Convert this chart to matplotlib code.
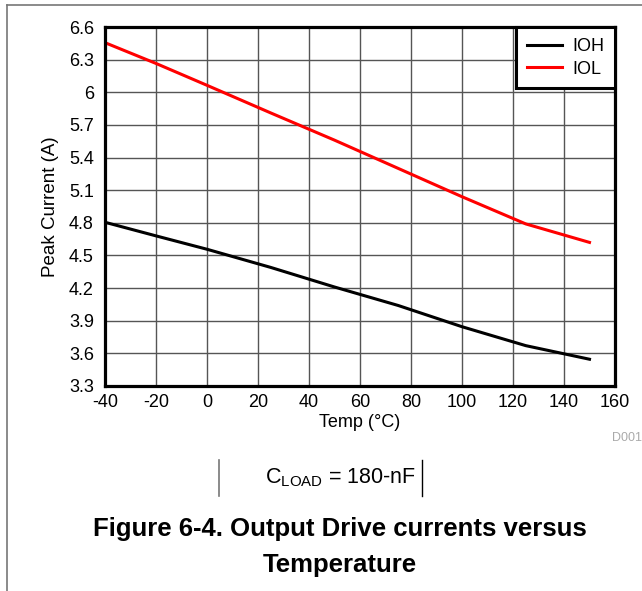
import matplotlib
matplotlib.use("Agg")
import matplotlib.pyplot as plt
from matplotlib.lines import Line2D

plt.rcParams['font.family'] = ['Liberation Sans', 'DejaVu Sans']
plt.rcParams['mathtext.fontset'] = 'custom'
plt.rcParams['mathtext.rm'] = 'Liberation Sans'
plt.rcParams['mathtext.it'] = 'Liberation Sans'

temps = [-40, -20, 0, 25, 50, 75, 100, 125, 150]
ioh = [4.805, 4.68, 4.557, 4.39, 4.21, 4.04, 3.845, 3.671, 3.546]
iol = [6.456, 6.265, 6.064, 5.81, 5.56, 5.30, 5.04, 4.79, 4.62]
xticks = [-40, -20, 0, 20, 40, 60, 80, 100, 120, 140, 160]
yticks = [3.3, 3.6, 3.9, 4.2, 4.5, 4.8, 5.1, 5.4, 5.7, 6.0, 6.3, 6.6]
ytick_labels = ['3.3', '3.6', '3.9', '4.2', '4.5', '4.8', '5.1', '5.4', '5.7', '6', '6.3', '6.6']

W, H = 642, 591
fig = plt.figure(figsize=(W / 100, H / 100), dpi=100)
ax = fig.add_axes([105 / W, 1 - 386 / H, 510 / W, 359 / H])

ax.plot(temps, ioh, color='black', lw=2.2, label='IOH')
ax.plot(temps, iol, color='#ff0000', lw=2.2, label='IOL')

ax.set_xlim(-40, 160)
ax.set_ylim(3.3, 6.6)
ax.set_xticks(xticks)
ax.set_xticklabels([str(t) for t in xticks])
ax.set_yticks(yticks)
ax.set_yticklabels(ytick_labels)
ax.tick_params(length=0, labelsize=13, colors='black')
ax.tick_params(axis='y', pad=8)
ax.tick_params(axis='x', pad=6)
ax.grid(True, color='#555555', lw=1.0)
ax.set_axisbelow(True)
for s in ax.spines.values():
    s.set_linewidth(2.3)
    s.set_color('black')

ax.set_xlabel('Temp (°C)', fontsize=13, labelpad=2)
ax.set_ylabel('Peak Current (A)', fontsize=13.5, labelpad=7)

leg = ax.legend(loc='upper right', bbox_to_anchor=(1.0, 1.0), borderaxespad=0,
                fancybox=False, framealpha=1, edgecolor='black', fontsize=13,
                handlelength=1.95, handletextpad=0.55, borderpad=0.6,
                labelspacing=0.32)
leg.get_frame().set_linewidth(2.2)

# outer frame (top and left)
fig.add_artist(Line2D([7 / W, 1.0], [1 - 5 / H, 1 - 5 / H], color='#777777', lw=1.2,
                      transform=fig.transFigure))
fig.add_artist(Line2D([7 / W, 7 / W], [1 - 5 / H, 0], color='#777777', lw=1.2,
                      transform=fig.transFigure))

fig.text(642 / W, 1 - 438 / H, 'D001', fontsize=9, color='#aaaaaa', ha='right', va='center')

# load annotation
fig.add_artist(Line2D([219 / W, 219 / W], [1 - 460 / H, 1 - 496 / H], color='#777777', lw=1.2,
                      transform=fig.transFigure))
fig.add_artist(Line2D([422 / W, 422 / W], [1 - 460 / H, 1 - 496 / H], color='black', lw=1.0,
                      transform=fig.transFigure))
fig.text(341 / W, 1 - 478 / H, r'C$_{\mathrm{LOAD}}$ = 180-nF', fontsize=15.5,
         ha='center', va='center')

fig.text(340 / W, 1 - 529 / H, 'Figure 6-4. Output Drive currents versus', fontsize=18.5,
         fontweight='bold', ha='center', va='center')
fig.text(340 / W, 1 - 565 / H, 'Temperature', fontsize=18.5,
         fontweight='bold', ha='center', va='center')

fig.savefig('out.png', dpi=100)
